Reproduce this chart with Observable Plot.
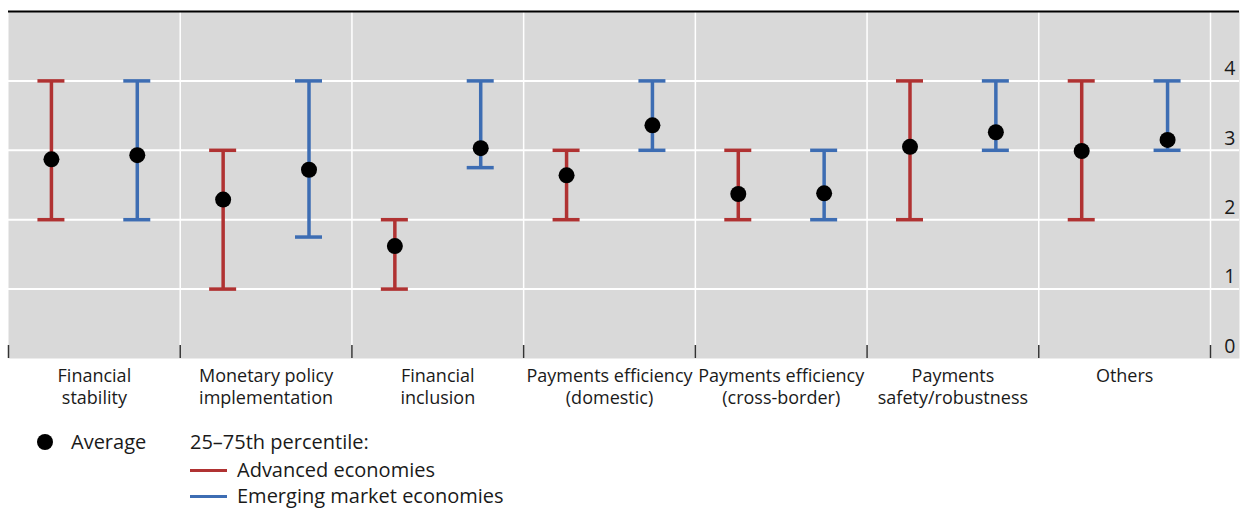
<!DOCTYPE html>
<html>
<head>
<meta charset="utf-8">
<script src="https://cdn.jsdelivr.net/npm/d3@7"></script>
<script src="https://cdn.jsdelivr.net/npm/@observablehq/plot@0.6"></script>
<style>
  html, body { margin: 0; padding: 0; background: white; }
  #wrap { position: relative; width: 1241px; height: 509px; font-family: "Open Sans", sans-serif; color: #1a1a1a; }
  #chart svg { display: block; }
  .lg { position: absolute; font-size: 20px; line-height: 22px; white-space: nowrap; }
  .sw { position: absolute; width: 37px; height: 3px; }
  .dotsw { position: absolute; width: 16px; height: 16px; border-radius: 50%; background: black; }
</style>
</head>
<body>
<div id="wrap">
  <div id="chart"></div>
  <div class="dotsw" style="left:37px; top:434px;"></div>
  <div class="lg" style="left:71px; top:431px;">Average</div>
  <div class="lg" style="left:190px; top:431px;">25–75th percentile:</div>
  <div class="sw" id="sw0" style="left:190px; top:469px;"></div>
  <div class="lg" id="lg0" style="left:237px; top:459px;"></div>
  <div class="sw" id="sw1" style="left:190px; top:495px;"></div>
  <div class="lg" id="lg1" style="left:237px; top:485px;"></div>
</div>
<script>
const categories = [
  "Financial\nstability",
  "Monetary policy\nimplementation",
  "Financial\ninclusion",
  "Payments efficiency\n(domestic)",
  "Payments efficiency\n(cross-border)",
  "Payments\nsafety/robustness",
  "Others"
];
const groups = ["Advanced economies", "Emerging market economies"];
const groupColors = ["#b03232", "#3d6db3"];

const aeLow  = [2, 1, 1, 2, 2, 2, 2];
const aeHigh = [4, 3, 2, 3, 3, 4, 4];
const aeAvg  = [2.87, 2.29, 1.62, 2.64, 2.37, 3.05, 2.99];

const emeLow  = [2, 1.75, 2.75, 3, 2, 3, 3];
const emeHigh = [4, 4, 4, 4, 3, 4, 4];
const emeAvg  = [2.93, 2.72, 3.03, 3.36, 2.38, 3.26, 3.15];

const yTicks = [0, 1, 2, 3, 4];
const yGrid = [1, 2, 3, 4];

// build table from arrays
const rows = [];
categories.forEach((c, i) => {
  rows.push({cat: i, pos: i + 0.25, group: groups[0], low: aeLow[i], high: aeHigh[i], avg: aeAvg[i]});
  rows.push({cat: i, pos: i + 0.75, group: groups[1], low: emeLow[i], high: emeHigh[i], avg: emeAvg[i]});
});
const boundaries = d3.range(0, categories.length + 1);
const centers = categories.map((c, i) => i + 0.5);

const H = 420, MT = 11, MB = 62;
const plotH = H - MT - MB;

const chart = Plot.plot({
  width: 1241,
  height: H,
  marginLeft: 8,
  marginRight: 2,
  marginTop: MT,
  marginBottom: MB,
  x: {domain: [0, categories.length], insetRight: 29, axis: null},
  y: {domain: [0, 5], axis: null},
  color: {domain: groups, range: groupColors},
  style: {fontFamily: "'Open Sans', sans-serif", background: "white", color: "#1a1a1a"},
  marks: [
    Plot.frame({fill: "#d9d9d9", stroke: null}),
    Plot.gridY(yGrid, {stroke: "white", strokeOpacity: 1, strokeWidth: 2}),
    Plot.gridX(boundaries.slice(1), {stroke: "white", strokeOpacity: 1, strokeWidth: 1.5}),
    Plot.ruleX(boundaries, {stroke: "#333", strokeWidth: 1.5, insetTop: plotH - 13}),
    Plot.ruleY([5], {stroke: "black", strokeWidth: 2}),
    Plot.ruleX(rows, {x: "pos", y1: "low", y2: "high", stroke: "group", strokeWidth: 3.5}),
    Plot.ruleY(rows, {y: "low", x1: "pos", x2: "pos", insetLeft: -13.5, insetRight: -13.5, stroke: "group", strokeWidth: 3.5}),
    Plot.ruleY(rows, {y: "high", x1: "pos", x2: "pos", insetLeft: -13.5, insetRight: -13.5, stroke: "group", strokeWidth: 3.5}),
    Plot.dot(rows, {x: "pos", y: "avg", r: 8, fill: "black", stroke: null}),
    Plot.text(yTicks, {y: d => d, text: d => String(d), frameAnchor: "right", textAnchor: "end", dx: -4, dy: -12, fontSize: 19.5, fill: "#1a1a1a"}),
    Plot.text(categories, {x: (d, i) => centers[i], text: d => d, frameAnchor: "bottom", lineAnchor: "top", dy: 8, fontSize: 18, lineHeight: 1.22, fill: "#1a1a1a"})
  ]
});
document.getElementById("chart").appendChild(chart);

groups.forEach((g, i) => {
  document.getElementById("lg" + i).textContent = g;
  document.getElementById("sw" + i).style.background = groupColors[i];
});
</script>
</body>
</html>
